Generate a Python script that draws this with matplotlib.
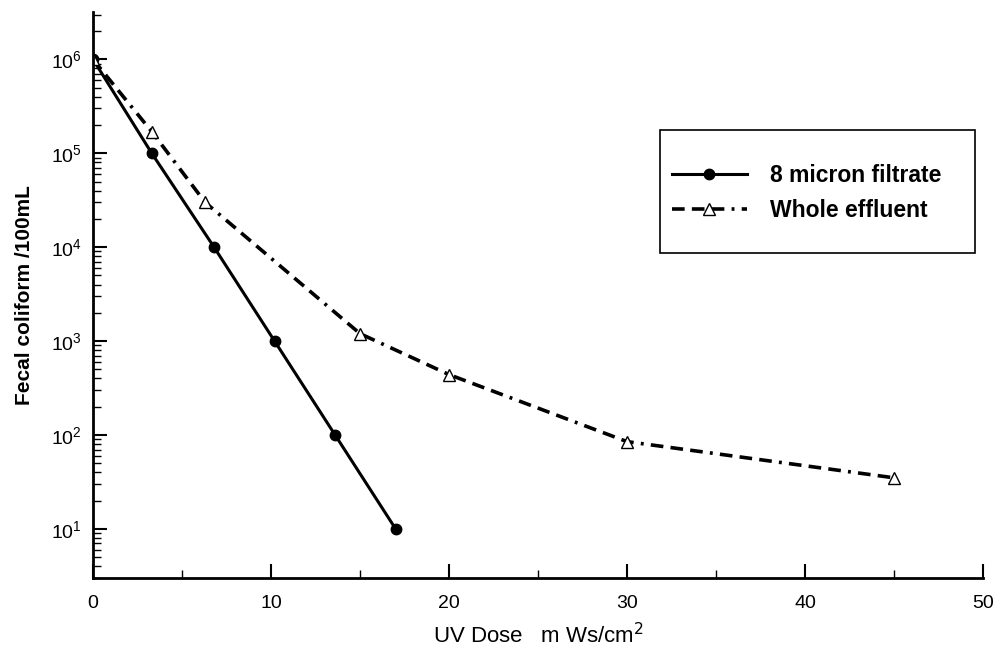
import matplotlib.pyplot as plt
from matplotlib.patches import Rectangle
from matplotlib.ticker import FixedLocator, LogFormatterSciNotation, NullFormatter

plt.rcParams['font.family'] = ['Liberation Sans', 'DejaVu Sans']

# UV dose (mWs/cm2) and fecal coliform counts (/100mL)
dose_filtrate = [0, 3.3, 6.8, 10.2, 13.6, 17.0]
fc_filtrate = [1e6, 1e5, 1e4, 1e3, 1e2, 1e1]

dose_whole = [0, 3.3, 6.3, 15, 20, 30, 45]
fc_whole = [1e6, 1.7e5, 3e4, 1.2e3, 440, 85, 35]

y_major = [1e1, 1e2, 1e3, 1e4, 1e5, 1e6]

fig = plt.figure(figsize=(9.96, 6.64), dpi=100)
ax = fig.add_axes([0.0934, 0.1295, 0.8936, 0.8525])

ax.plot(dose_filtrate, fc_filtrate, color='black', lw=2.2, marker='o',
        markersize=7.5, label='8 micron filtrate')
ax.plot(dose_whole, fc_whole, color='black', lw=2.6, marker='^',
        markersize=8.5, markerfacecolor='white', markeredgewidth=1.0,
        dashes=(3.5, 2, 3.5, 2, 3.5, 2, 0.8, 2), label='Whole effluent')

ax.set_yscale('log')
ax.set_xlim(0, 50)
ax.set_ylim(3.0, 3.2e6)

ax.xaxis.set_major_locator(FixedLocator([0, 10, 20, 30, 40, 50]))
ax.xaxis.set_minor_locator(FixedLocator([5, 15, 25, 35, 45]))
ax.yaxis.set_major_locator(FixedLocator(y_major))
ax.yaxis.set_major_formatter(LogFormatterSciNotation())
y_minor = [m * d for d in [1, 1e1, 1e2, 1e3, 1e4, 1e5, 1e6]
           for m in range(2, 10) if 3.0 <= m * d <= 3.2e6]
ax.yaxis.set_minor_locator(FixedLocator(y_minor))
ax.yaxis.set_minor_formatter(NullFormatter())

ax.spines['top'].set_visible(False)
ax.spines['right'].set_visible(False)
ax.spines['left'].set_linewidth(2)
ax.spines['bottom'].set_linewidth(2)

ax.tick_params(axis='both', which='major', direction='in', length=10,
               width=1.5, labelsize=14, colors='black', pad=12)
ax.tick_params(axis='both', which='minor', direction='in', length=6,
               width=1)
ax.tick_params(axis='y', which='major', pad=8)

ax.set_xlabel('UV Dose   m Ws/cm$^2$', fontsize=16, labelpad=8)
ax.set_ylabel('Fecal coliform /100mL', fontsize=15, fontweight='bold',
              labelpad=12)

# legend frame drawn separately so the inner spacing can match
ax.add_patch(Rectangle((0.637, 0.574), 0.354, 0.2175, transform=ax.transAxes,
                       fill=False, edgecolor='black', lw=1.2, zorder=5))
leg = ax.legend(loc='center left', bbox_to_anchor=(0.650, 0.680),
                fontsize=16.5, frameon=False, handlelength=3.3,
                borderpad=0, labelspacing=0.5, handletextpad=1.0,
                borderaxespad=0)
for t in leg.get_texts():
    t.set_fontweight('bold')

fig.savefig('out.png', dpi=100)
